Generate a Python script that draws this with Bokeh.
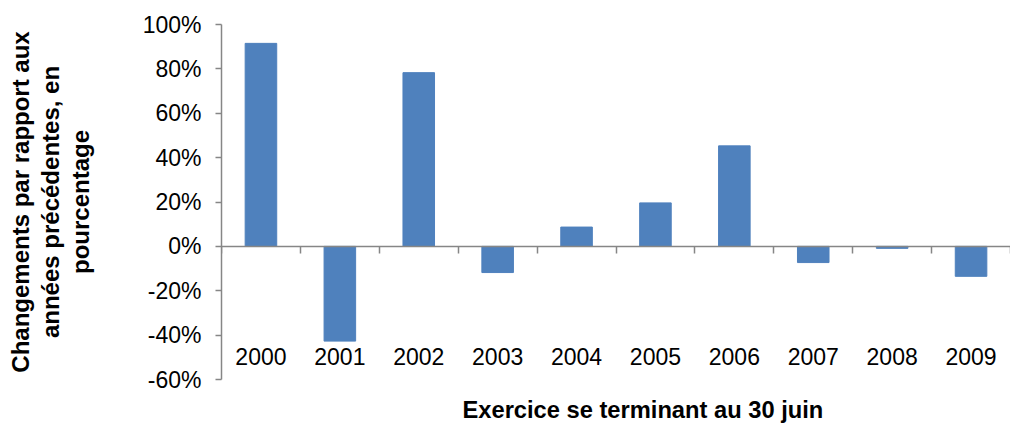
from bokeh.plotting import figure
from bokeh.models import (Range1d, FixedTicker, LinearAxis, PrintfTickFormatter, Title)
from bokeh.embed import file_html
from bokeh.resources import INLINE

# ---- data ----
years = ["2000", "2001", "2002", "2003", "2004", "2005", "2006", "2007", "2008", "2009"]
changes = [91.5, -42.7, 78.3, -11.8, 8.7, 19.6, 45.3, -7.3, -0.9, -13.5]
y_ticks = [-60, -40, -20, 0, 20, 40, 60, 80, 100]
y_title = "Changements par rapport aux\nannées précédentes, en\npourcentage"
x_title = "Exercice se terminant au 30 juin"

FONT = "Liberation Sans"
BAR = "#4F81BD"
AXIS = "#868686"

n = len(years)
centers = [i + 0.5 for i in range(n)]

p = figure(width=1010, height=424, output_backend="svg", toolbar_location=None,
           x_range=Range1d(0, n), y_range=Range1d(-60, 100),
           min_border_left=221, min_border_right=0, min_border_top=24, min_border_bottom=43)
p.outline_line_color = None
p.xgrid.visible = False
p.ygrid.visible = False
p.background_fill_color = "white"
p.border_fill_color = "white"

p.vbar(x=centers, top=changes, bottom=0, width=0.4, fill_color=BAR, line_color=BAR)

# y axis
ya = p.yaxis[0]
ya.ticker = FixedTicker(ticks=y_ticks)
ya.formatter = PrintfTickFormatter(format="%d%%")
ya.axis_line_color = AXIS
ya.axis_line_width = 1.5
ya.major_tick_line_color = AXIS
ya.major_tick_line_width = 1.5
ya.major_tick_in = 0
ya.major_tick_out = 6
ya.minor_tick_line_color = None
ya.major_label_standoff = 14
ya.major_label_text_font = FONT
ya.major_label_text_font_size = "23px"
ya.major_label_text_color = "black"
ya.axis_label = y_title
ya.axis_label_text_font = FONT
ya.axis_label_text_font_size = "24px"
ya.axis_label_text_font_style = "bold"
ya.axis_label_text_color = "black"
ya.axis_label_text_line_height = 1.1
ya.axis_label_standoff = 46

# zero line axis with boundary ticks
xa = p.xaxis[0]
xa.fixed_location = 0
xa.ticker = FixedTicker(ticks=list(range(n + 1)))
xa.major_label_overrides = {i: "" for i in range(n + 1)}
xa.major_label_text_font_size = "0px"
xa.axis_line_color = AXIS
xa.axis_line_width = 1.5
xa.major_tick_line_color = AXIS
xa.major_tick_line_width = 1.5
xa.major_tick_in = 0
xa.major_tick_out = 7
xa.minor_tick_line_color = None

# category labels placed low
la = LinearAxis(fixed_location=-46, ticker=FixedTicker(ticks=centers))
la.major_label_overrides = {c: y for c, y in zip(centers, years)}
la.axis_line_color = None
la.major_tick_line_color = None
la.minor_tick_line_color = None
la.major_tick_out = 0
la.major_tick_in = 0
la.major_label_standoff = 0
la.major_label_text_font = FONT
la.major_label_text_font_size = "23px"
la.major_label_text_color = "black"
p.add_layout(la, "below")

# spacer axis (one invisible tick) between the frame and the title
sp = LinearAxis(ticker=FixedTicker(ticks=[n / 2]))
sp.major_label_overrides = {n / 2: ""}
sp.major_label_text_font_size = "0px"
sp.axis_line_color = None
sp.major_tick_line_alpha = 0
sp.minor_tick_line_color = None
sp.major_tick_out = 17
sp.major_tick_in = 0
sp.major_label_standoff = 0
p.add_layout(sp, "below")

# x title
t = Title(text=x_title, align="left", offset=241, vertical_align="top", standoff=0,
          text_font=FONT, text_font_size="23.7px", text_font_style="bold", text_color="black")
p.add_layout(t, "below")

open("out.html", "w").write(file_html(p, INLINE))
